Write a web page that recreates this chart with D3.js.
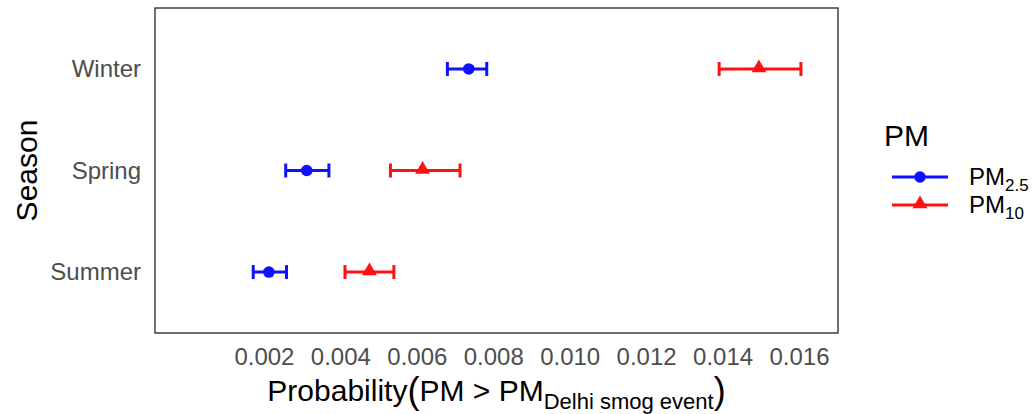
<!DOCTYPE html>
<html>
<head>
<meta charset="utf-8">
<script src="https://cdn.jsdelivr.net/npm/d3@7"></script>
<style>
  html, body { margin: 0; padding: 0; background: #fff; }
  svg { display: block; font-family: "Liberation Sans", Arial, sans-serif; }
</style>
</head>
<body>
<svg id="chart" width="1036" height="414"></svg>
<script>
// Seasons, top to bottom
const seasons = ["Winter", "Spring", "Summer"];

// PM2.5: estimate with lower / upper bounds
const pm25Est   = [0.00736, 0.00312, 0.00213];
const pm25Lower = [0.00680, 0.00257, 0.00172];
const pm25Upper = [0.00783, 0.00370, 0.00259];

// PM10: estimate with lower / upper bounds
const pm10Est   = [0.01495, 0.00615, 0.00476];
const pm10Lower = [0.01391, 0.00531, 0.00412];
const pm10Upper = [0.01605, 0.00713, 0.00540];

const xTicks = [0.002, 0.004, 0.006, 0.008, 0.010, 0.012, 0.014, 0.016];

const series = [
  { key: "pm25", color: "#1111ff", shape: "circle", est: pm25Est, lo: pm25Lower, hi: pm25Upper, name: "PM", sub: "2.5" },
  { key: "pm10", color: "#ff1111", shape: "triangle", est: pm10Est, lo: pm10Lower, hi: pm10Upper, name: "PM", sub: "10" }
];

const panel = { left: 155, right: 838, top: 8, bottom: 333 };
const svg = d3.select("#chart");

const x = d3.scaleLinear().domain([-0.00085, 0.01702]).range([panel.left, panel.right]);
const y = d3.scalePoint().domain(seasons).range([panel.top, panel.bottom]).padding(0.6);

// X axis labels (no tick marks)
const xAxis = d3.axisBottom(x).tickValues(xTicks).tickSize(0).tickPadding(15)
  .tickFormat(d3.format(".3f"));
const gx = svg.append("g").attr("transform", `translate(0,${panel.bottom})`).call(xAxis);
gx.select(".domain").remove();
gx.selectAll("text").attr("fill", "#4d4d4d").attr("font-size", 24)
  .attr("font-family", "Liberation Sans, Arial, sans-serif");

// Y axis labels
const yAxis = d3.axisLeft(y).tickSize(0).tickPadding(14);
const gy = svg.append("g").attr("transform", `translate(${panel.left},0)`).call(yAxis);
gy.select(".domain").remove();
gy.selectAll("text").attr("fill", "#4d4d4d").attr("font-size", 24)
  .attr("font-family", "Liberation Sans, Arial, sans-serif");

// Error bars and points
const capH = 14;
const triangle = d3.symbol().type(d3.symbolTriangle).size(95);
series.forEach(s => {
  const g = svg.append("g").attr("stroke", s.color).attr("fill", s.color);
  seasons.forEach((season, i) => {
    const cy = y(season);
    g.append("line").attr("x1", x(s.lo[i])).attr("x2", x(s.hi[i]))
      .attr("y1", cy).attr("y2", cy).attr("stroke-width", 3);
    [s.lo[i], s.hi[i]].forEach(v => {
      g.append("line").attr("x1", x(v)).attr("x2", x(v))
        .attr("y1", cy - capH / 2).attr("y2", cy + capH / 2).attr("stroke-width", 3);
    });
    if (s.shape === "circle") {
      g.append("circle").attr("cx", x(s.est[i])).attr("cy", cy).attr("r", 5.8).attr("stroke", "none");
    } else {
      g.append("path").attr("d", triangle).attr("stroke", "none")
        .attr("transform", `translate(${x(s.est[i])},${cy - 1})`);
    }
  });
});

// Panel border
svg.append("rect").attr("x", panel.left).attr("y", panel.top)
  .attr("width", panel.right - panel.left).attr("height", panel.bottom - panel.top)
  .attr("fill", "none").attr("stroke", "#333").attr("stroke-width", 1.4);

// X axis title with subscript
const xt = svg.append("text").attr("x", (panel.left + panel.right) / 2).attr("y", 401)
  .attr("text-anchor", "middle").attr("font-size", 30).attr("fill", "#000");
xt.append("tspan").text("Probability");
xt.append("tspan").attr("font-size", 36).attr("dy", 2).text("(");
xt.append("tspan").attr("font-size", 30).attr("dy", -2).text("PM > PM");
xt.append("tspan").attr("font-size", 22).attr("dy", 8).text("Delhi smog event");
xt.append("tspan").attr("font-size", 36).attr("dy", -6).text(")");

// Y axis title
svg.append("text").attr("transform", `translate(37,${(panel.top + panel.bottom) / 2}) rotate(-90)`)
  .attr("text-anchor", "middle").attr("font-size", 30).attr("fill", "#000").text("Season");

// Legend
const leg = svg.append("g");
leg.append("text").attr("x", 884).attr("y", 146).attr("font-size", 30).attr("fill", "#000").text("PM");
series.forEach((s, i) => {
  const ly = 177 + i * 28;
  leg.append("line").attr("x1", 892).attr("x2", 948).attr("y1", ly).attr("y2", ly)
    .attr("stroke", s.color).attr("stroke-width", 3);
  if (s.shape === "circle") {
    leg.append("circle").attr("cx", 920).attr("cy", ly).attr("r", 5.8).attr("fill", s.color);
  } else {
    leg.append("path").attr("d", triangle).attr("fill", s.color)
      .attr("transform", `translate(920,${ly - 1})`);
  }
  const t = leg.append("text").attr("x", 969).attr("y", ly + 8).attr("font-size", 24).attr("fill", "#000");
  t.append("tspan").text(s.name);
  t.append("tspan").attr("font-size", 17).attr("dy", 6).text(s.sub);
});
</script>
</body>
</html>
